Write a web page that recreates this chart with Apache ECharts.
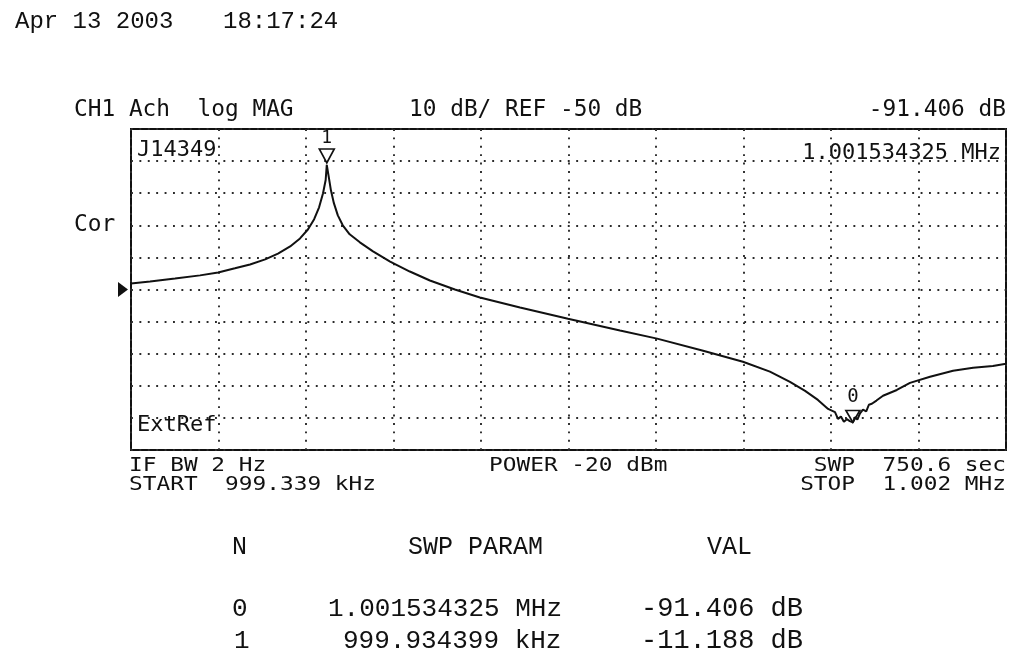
<!DOCTYPE html>
<html>
<head>
<meta charset="utf-8">
<script src="https://cdn.jsdelivr.net/npm/echarts@6/dist/echarts.min.js"></script>
<style>
html,body{margin:0;padding:0;background:#fff;}
#c{width:1030px;height:656px;}
</style>
</head>
<body>
<div id="c"></div>
<script>
const freqKHz = [999.339, 999.397, 999.473, 999.549, 999.604, 999.655, 999.701, 999.747, 999.786, 999.823,
  999.853, 999.877, 999.896, 999.911, 999.923, 999.931, 999.9344, 999.941, 999.947, 999.956,
  999.968, 999.983, 1000.004, 1000.035, 1000.075, 1000.127, 1000.187, 1000.248, 1000.324, 1000.400,
  1000.522, 1000.668, 1000.826, 1000.939, 1001.079, 1001.200, 1001.282, 1001.343, 1001.389, 1001.428,
  1001.459, 1001.480, 1001.489, 1001.498, 1001.507, 1001.516, 1001.525, 1001.5343, 1001.541, 1001.548,
  1001.556, 1001.565, 1001.575, 1001.583, 1001.592, 1001.606, 1001.626, 1001.668, 1001.708, 1001.769,
  1001.839, 1001.900, 1001.960, 1002.000];
const magDB = [-48.1, -47.5, -46.6, -45.6, -44.7, -43.4, -42.2, -40.6, -38.8, -36.6,
  -34.1, -31.3, -28.1, -24.4, -20.0, -15.9, -11.188, -15.3, -19.1, -23.1,
  -26.9, -30.0, -32.8, -35.3, -38.1, -41.3, -44.4, -47.2, -50.0, -52.5,
  -55.6, -59.1, -62.8, -65.3, -69.1, -72.5, -75.6, -78.8, -81.6, -84.4,
  -87.2, -88.2, -90.3, -89.6, -91.2, -90.4, -91.0, -91.406, -89.8, -90.5,
  -88.6, -87.4, -88.0, -85.9, -85.6, -84.6, -83.1, -81.3, -79.1, -77.2,
  -75.3, -74.4, -73.8, -73.1];

const startKHz = 999.339, stopKHz = 1002.0;
const refDB = -50, dbMin = -100, dbMax = 0, dbPerDiv = 10;
const markerNames = ['0', '1'];
const markerFreq = [1001.534325, 999.934399];
const markerVal = [-91.406, -11.188];

const mono = "'DejaVu Sans Mono', monospace";
const lmono = "'Liberation Mono', monospace";

const chart = echarts.init(document.getElementById('c'), null, {renderer: 'canvas'});

function txt(x, y, s, opt) {
  opt = opt || {};
  return {
    type: 'text', x: x, y: y, silent: true,
    scaleY: opt.sy || 1,
    style: {
      text: s, fill: '#111',
      font: (opt.size || 22.8) + 'px ' + (opt.font || mono),
      textAlign: opt.align || 'left', textVerticalAlign: 'middle'
    }
  };
}

const dotted = {color: '#2a2a2a', width: 1.9, type: [1.9, 6.5]};

const option = {
  backgroundColor: '#fff',
  animation: false,
  grid: {left: 131, top: 129, width: 875, height: 321, show: true, borderColor: '#111', borderWidth: 2, backgroundColor: 'transparent'},
  xAxis: [
    {type: 'value', min: startKHz, max: stopKHz, show: false, splitLine: {show: false}},
    {type: 'value', min: 0, max: 10, interval: 1, position: 'bottom',
      axisLine: {show: false}, axisTick: {show: false}, axisLabel: {show: false},
      splitLine: {show: true, lineStyle: dotted}}
  ],
  yAxis: {type: 'value', min: dbMin, max: dbMax, interval: dbPerDiv,
    axisLine: {show: false}, axisTick: {show: false}, axisLabel: {show: false},
    splitLine: {show: true, lineStyle: dotted}},
  series: [{
    type: 'line', xAxisIndex: 0,
    data: freqKHz.map((f, i) => [f, magDB[i]]),
    showSymbol: false, symbol: 'none',
    lineStyle: {color: '#111', width: 2},
    z: 5,
    markPoint: {
      silent: true,
      animation: false,
      data: [
        {coord: [markerFreq[0], markerVal[0]], symbol: 'triangle', symbolRotate: 180, symbolSize: [14, 12], symbolOffset: [0, -6],
          itemStyle: {color: 'rgba(0,0,0,0)', borderColor: '#111', borderWidth: 1.6},
          label: {show: true, formatter: markerNames[0], position: 'top', distance: 3, color: '#111', fontFamily: mono, fontSize: 19}},
        {coord: [markerFreq[1], markerVal[1]], symbol: 'triangle', symbolRotate: 180, symbolSize: [15, 14], symbolOffset: [0, -9],
          itemStyle: {color: 'rgba(0,0,0,0)', borderColor: '#111', borderWidth: 1.6},
          label: {show: true, formatter: markerNames[1], position: 'top', distance: 1, color: '#111', fontFamily: mono, fontSize: 18}},
        {coord: [startKHz, refDB], symbol: 'triangle', symbolRotate: -90, symbolSize: [15, 10], symbolOffset: [-8, 0],
          itemStyle: {color: '#111', borderWidth: 0}, label: {show: false}}
      ]
    }
  }],
  graphic: [
    txt(15, 22, 'Apr 13 2003', {font: lmono, size: 24}),
    txt(223, 22, '18:17:24', {font: lmono, size: 24}),
    txt(74, 110, 'CH1 Ach  log MAG'),
    txt(409, 110, '10 dB/ REF -50 dB'),
    txt(1006, 110, '-91.406 dB', {align: 'right'}),
    txt(137, 150, 'J14349', {size: 22}),
    txt(1001, 153, '1.001534325 MHz', {align: 'right', size: 22}),
    txt(74, 225, 'Cor'),
    txt(137, 425, 'ExtRef', {size: 22}),
    txt(129, 466, 'IF BW 2 Hz', {sy: 0.88}),
    txt(129, 485, 'START  999.339 kHz', {sy: 0.88}),
    txt(489, 466, 'POWER -20 dBm', {sy: 0.88}),
    txt(1006, 466, 'SWP  750.6 sec', {align: 'right', sy: 0.88}),
    txt(1006, 485, 'STOP  1.002 MHz', {align: 'right', sy: 0.88}),
    txt(232, 547, 'N', {font: lmono, size: 25}),
    txt(408, 547, 'SWP PARAM', {font: lmono, size: 25}),
    txt(707, 547, 'VAL', {font: lmono, size: 25}),
    txt(232, 609, '0', {font: lmono, size: 26}),
    txt(328, 609, '1.001534325 MHz', {font: lmono, size: 26}),
    txt(641, 609, '-91.406 dB', {font: lmono, size: 27}),
    txt(234, 641, '1', {font: lmono, size: 26}),
    txt(343, 641, '999.934399 kHz', {font: lmono, size: 26}),
    txt(641, 641, '-11.188 dB', {font: lmono, size: 27})
  ]
};
chart.setOption(option);
</script>
</body>
</html>
